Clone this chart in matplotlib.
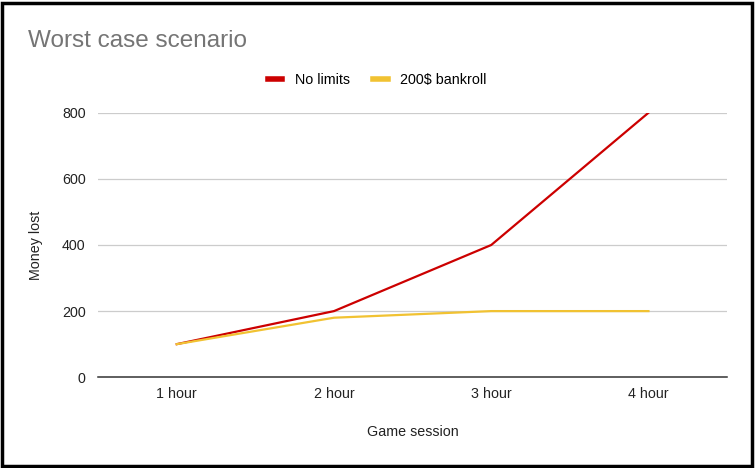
import matplotlib.pyplot as plt
from matplotlib.patches import Rectangle

sessions = ["1 hour", "2 hour", "3 hour", "4 hour"]
no_limits = [100, 200, 400, 800]
bankroll_200 = [100, 180, 200, 200]
y_ticks = [0, 200, 400, 600, 800]

plt.rcParams["font.family"] = ["Liberation Sans", "DejaVu Sans"]

fig = plt.figure(figsize=(7.55, 4.68), dpi=100)
ax = fig.add_axes([0.130, 0.194, 0.833, 0.565])

x = list(range(len(sessions)))
ax.plot(x, no_limits, color="#cc0000", lw=1.6, label="No limits", zorder=3)
ax.plot(x, bankroll_200, color="#f1c232", lw=1.6, label="200$ bankroll", zorder=3)

ax.set_xlim(-0.5, len(sessions) - 0.5)
ax.set_ylim(0, 800)
ax.set_yticks(y_ticks)
ax.set_xticks(x)
ax.set_xticklabels(sessions)
ax.tick_params(length=0, labelsize=10.3, colors="#222222", pad=7)
ax.tick_params(axis="y", pad=9)

for v in y_ticks[1:]:
    ax.axhline(v, color="#cccccc", lw=0.9, zorder=1)
ax.axhline(0, color="#333333", lw=1.1, zorder=2, clip_on=False)
for s in ax.spines.values():
    s.set_visible(False)

ax.set_xlabel("Game session", fontsize=10.3, color="#222222", labelpad=17)
ax.set_ylabel("Money lost", fontsize=10.3, color="#222222")
ax.yaxis.set_label_coords(-0.088, 0.5)

fig.text(0.037, 0.913, "Worst case scenario", fontsize=17.5, color="#757575",
         va="center", ha="left")

leg = fig.legend(loc="center", bbox_to_anchor=(0.50, 0.829), ncol=2, frameon=False,
                 fontsize=10.3, handlelength=1.0, handletextpad=0.9, columnspacing=1.6)
for h in leg.get_lines():
    h.set_linewidth(4)

fig.patches.append(Rectangle((0.002, 0.004), 0.994, 0.99, transform=fig.transFigure,
                             fill=False, edgecolor="black", lw=2.5))

fig.savefig("out.png", dpi=100)
